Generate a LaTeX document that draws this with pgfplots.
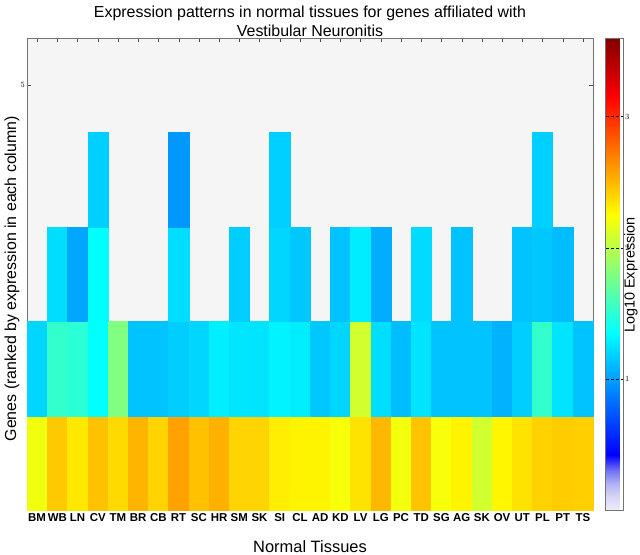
\documentclass[border=0pt]{standalone}
\usepackage{pgfplots}
\usepackage{pgfplotstable}
\pgfplotsset{compat=1.18}
\usepackage{fontspec}
\setmainfont{Liberation Sans}

\pgfdeclareplotmark{cell}{%
  \pgfpathrectangle{\pgfpoint{-10.107bp}{-47.2bp}}{\pgfpoint{20.214bp}{94.4bp}}%
  \pgfusepathqfillstroke}

\pgfplotstableread{
x y c
1 1 2.20
2 1 2.44
3 1 2.33
4 1 2.47
5 1 2.38
6 1 2.51
7 1 2.40
8 1 2.58
9 1 2.47
10 1 2.53
11 1 2.40
12 1 2.40
13 1 2.31
14 1 2.29
15 1 2.29
16 1 2.22
17 1 2.35
18 1 2.50
19 1 2.21
20 1 2.46
21 1 2.22
22 1 2.29
23 1 2.09
24 1 2.28
25 1 2.35
26 1 2.41
27 1 2.43
28 1 2.42
1 2 1.20
2 2 1.53
3 2 1.50
4 2 1.35
5 2 1.80
6 2 1.13
7 2 1.13
8 2 1.17
9 2 1.20
10 2 1.29
11 2 1.26
12 2 1.25
13 2 1.31
14 2 1.28
15 2 1.15
16 2 1.20
17 2 2.09
18 2 1.23
19 2 1.11
20 2 1.25
21 2 1.13
22 2 1.13
23 2 1.13
24 2 1.07
25 2 1.17
26 2 1.53
27 2 1.25
28 2 1.13
2 3 1.23
3 3 1.03
4 3 1.35
8 3 1.23
11 3 1.17
13 3 1.20
14 3 1.15
16 3 1.13
17 3 1.28
18 3 1.05
20 3 1.22
22 3 1.13
25 3 1.13
26 3 1.15
27 3 1.11
4 4 1.18
8 4 0.97
13 4 1.18
26 4 1.18
}\cells

\begin{document}
\begin{tikzpicture}
\useasboundingbox[fill=white] (0,0) rectangle (640bp,555bp);
\begin{axis}[
  scale only axis,
  width=566bp, height=472bp,
  at={(27bp,45bp)}, anchor=south west,
  xmin=0.5, xmax=28.5, ymin=0.5, ymax=5.5,
  axis background/.style={fill=black!4},
  axis line style={black!55},
  tick align=inside,
  major tick length=4bp,
  tick style={black!70},
  xtick={1,...,28},
  xticklabels={BM,WB,LN,CV,TM,BR,CB,RT,SC,HR,SM,SK,SI,CL,AD,KD,LV,LG,PC,TD,SG,AG,SK,OV,UT,PL,PT,TS},
  xticklabel style={font=\bfseries\fontsize{11.5}{12}\selectfont, inner sep=1pt, yshift=-2bp},
  ytick={5},
  yticklabel style={font=\fontsize{8.5}{9}\selectfont, inner sep=2pt},
  title={Expression patterns in normal tissues for genes affiliated with\\Vestibular Neuronitis},
  title style={align=center, font=\fontsize{16}{19.5}\selectfont, at={(0.5,1)}, anchor=south, inner sep=0pt, yshift=-5bp},
  xlabel={Normal Tissues},
  every axis x label/.style={at={(axis description cs:0.5,0)}, anchor=north, inner sep=0pt, yshift=-30bp, font=\fontsize{16.5}{18}\selectfont},
  ylabel={Genes (ranked by expression in each column)},
  every axis y label/.style={at={(axis description cs:-0.013,0.49)}, rotate=90, anchor=south, inner sep=0pt, font=\fontsize{16}{18}\selectfont},
  colormap={vn}{
    rgb255(0pt)=(236,236,250)
    rgb255(10pt)=(214,214,246)
    rgb255(20pt)=(178,178,244)
    rgb255(30pt)=(115,115,242)
    rgb255(42pt)=(0,0,255)
    rgb255(135pt)=(0,255,255)
    rgb255(180pt)=(128,255,128)
    rgb255(225pt)=(255,255,0)
    rgb255(315pt)=(255,0,0)
    rgb255(360pt)=(128,0,0)
  },
  point meta min=0, point meta max=3.6,
  colorbar,
  colorbar style={
    at={(parent axis.north east)}, anchor=north west, xshift=4bp,
    width=18bp,
    axis line style={black!55},
    ytick={1,2,3},
    ytick pos=right,
    yticklabel pos=right,
    major tick length=18bp,
    tick align=inside,
    every tick/.style={black, dash pattern=on 3bp off 2bp},
    yticklabel style={font=\fontsize{8}{9}\selectfont, inner sep=1.5pt},
  },
]
\addplot[scatter, only marks, mark=cell, point meta=explicit,
  scatter/use mapped color={draw=mapped color, fill=mapped color},
  mark options={line width=0.2pt}]
  table[x=x, y=y, meta=c] {\cells};
\end{axis}
\node[rotate=90, inner sep=0pt, font=\fontsize{14.5}{16}\selectfont] at (631bp,280bp) {Log10 Expression};
\end{tikzpicture}
\end{document}
